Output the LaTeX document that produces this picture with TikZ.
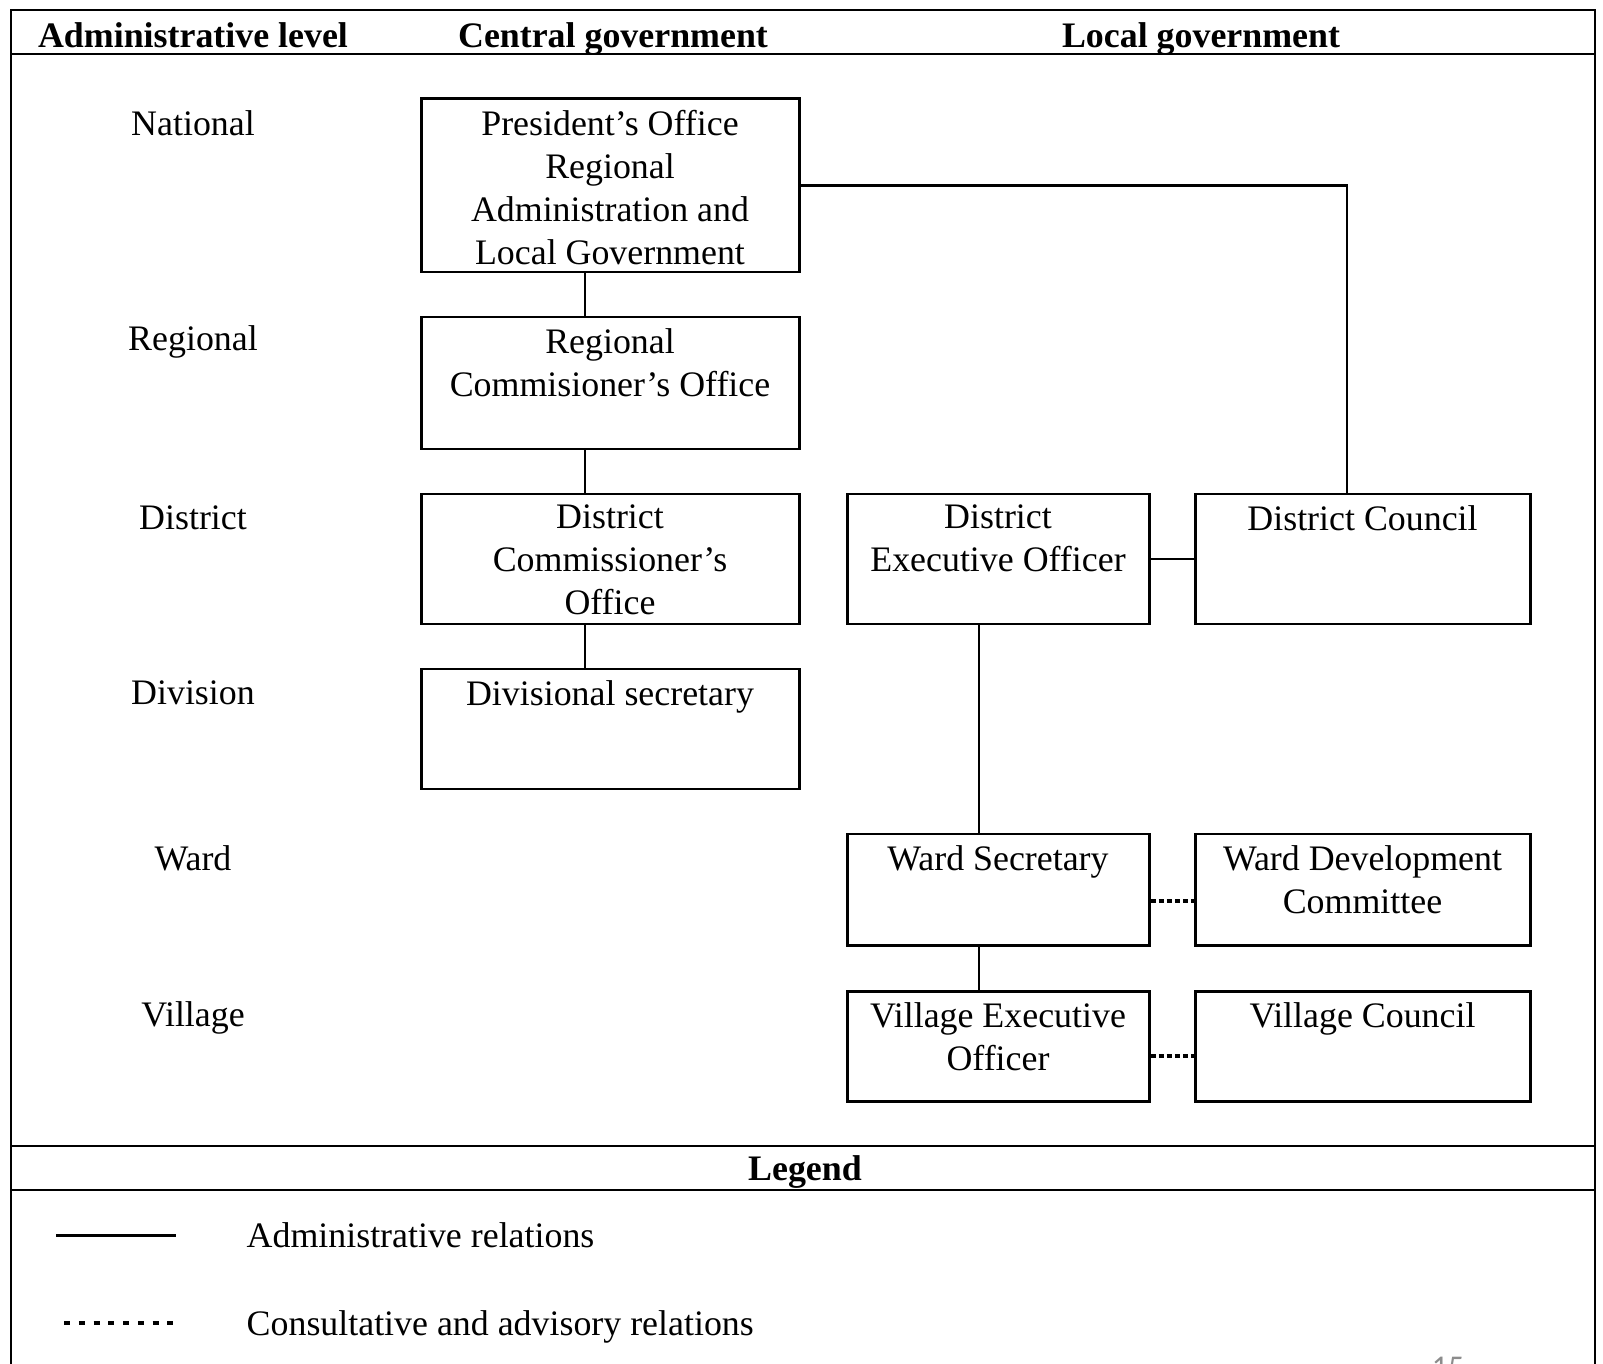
\documentclass[tikz,border=0pt]{standalone}
\usepackage{fontspec}
\setmainfont{Liberation Serif}
\newfontfamily\pagenumfont{Carlito}
\usepackage{tikz}
\usetikzlibrary{
  positioning,
  fit,
  calc
}
\definecolor{govInk}{HTML}{000000}
\definecolor{govMute}{HTML}{8C8C8C}
\tikzset{
  govbox/.style={draw=govInk, line width=0.85pt, inner sep=0pt},
  boxtext/.style={anchor=north, align=center, inner sep=0pt, yshift=-1.2mm},
  levellabel/.style={anchor=base, inner sep=0pt},
  headtext/.style={anchor=base, inner sep=0pt, font=\bfseries},
  legendtext/.style={anchor=base west, inner sep=0pt},
  frameline/.style={line width=0.6pt, govInk},
  headrule/.style={line width=0.8pt, govInk},
  adminrel/.style={line width=0.65pt, govInk},
  advrel/.style={line width=1pt, govInk, dash pattern=on 1.6pt off 0.7pt},
  legdots/.style={line width=1pt, govInk, dash pattern=on 1.7pt off 2.5pt}
}

\begin{document}
\fontsize{10.2}{12.2}\selectfont
\begin{tikzpicture}[x=0.01cm, y=-0.01cm]
  \useasboundingbox (0,0) rectangle (1603,1364);
  % frame
  \draw[frameline] (11,1370) -- (11,10) -- (1595,10) -- (1595,1370);
  \draw[headrule] (11,54) -- (1595,54);
  \draw[headrule] (11,1146) -- (1595,1146);
  \draw[headrule] (11,1190) -- (1595,1190);

  \node[headtext] (hlevel) at (193,48) {Administrative level};
  \node[headtext] (hcentral) at (613,48) {Central government};
  \node[headtext] (hlocal) at (1201,48) {Local government};

  \node[levellabel] (lnat) at (193,136) {National};
  \node[levellabel] (lreg) at (193,351) {Regional};
  \node[levellabel] (ldis) at (193,530) {District};
  \node[levellabel] (ldiv) at (193,704) {Division};
  \node[levellabel] (lward) at (193,870) {Ward};
  \node[levellabel] (lvil) at (193,1026) {Village};

  % central government
  \node[govbox, fit={(421,99) (799,272)}] (pres) {};
  \node[govbox, fit={(421,317) (799,449)}] (rco) {};
  \node[govbox, fit={(421,494) (799,624)}] (dco) {};
  \node[govbox, fit={(421,669) (799,789)}] (dsec) {};
  \node[boxtext] (pres-t) at (pres.north) {President’s Office\\Regional\\Administration and\\Local Government};
  \node[boxtext] (rco-t) at (rco.north) {Regional\\Commisioner’s Office};
  \node[boxtext] (dco-t) at (dco.north) {District\\Commissioner’s\\Office};
  \node[boxtext] (dsec-t) at (dsec.north) {Divisional secretary};

  % local government
  \node[govbox, fit={(847,494) (1149,624)}] (deo) {};
  \node[govbox, fit={(1195,494) (1530,624)}] (dcl) {};
  \node[govbox, fit={(847,834) (1149,945)}] (wsec) {};
  \node[govbox, fit={(1195,834) (1530,945)}] (wdc) {};
  \node[govbox, fit={(847,991) (1149,1101)}] (veo) {};
  \node[govbox, fit={(1195,991) (1530,1101)}] (vcl) {};
  \node[boxtext] (deo-t) at (deo.north) {District\\Executive Officer};
  \node[boxtext] (dcl-t) at (dcl.north) {District Council};
  \node[boxtext] (wsec-t) at (wsec.north) {Ward Secretary};
  \node[boxtext] (wdc-t) at (wdc.north) {Ward Development\\Committee};
  \node[boxtext] (veo-t) at (veo.north) {Village Executive\\Officer};
  \node[boxtext] (vcl-t) at (vcl.north) {Village Council};

  % relations
  \coordinate (cgx) at (585,0);
  \coordinate (dclx) at (1347,0);
  \coordinate (lgx) at (979,0);
  \coordinate (wdy) at (0,901);
  \coordinate (vdy) at (0,1056);
  \draw[adminrel] (pres.south -| cgx) -- (rco.north -| cgx);
  \draw[adminrel] (rco.south -| cgx) -- (dco.north -| cgx);
  \draw[adminrel] (dco.south -| cgx) -- (dsec.north -| cgx);
  \draw[adminrel] (pres.east) -| (dclx |- dcl.north);
  \draw[adminrel] (deo.east) -- (dcl.west);
  \draw[adminrel] (deo.south -| lgx) -- (wsec.north -| lgx);
  \draw[adminrel] (wsec.south -| lgx) -- (veo.north -| lgx);
  \draw[advrel] (wsec.east |- wdy) -- (wdc.west |- wdy);
  \draw[advrel] (veo.east |- vdy) -- (vcl.west |- vdy);

  % legend
  \node[headtext] (hlegend) at (805,1180) {Legend};
  \coordinate (legA1) at (56,1235);
  \coordinate (legA2) at (176,1235);
  \coordinate (legB1) at (64,1323);
  \coordinate (legB2) at (177,1323);
  \draw[adminrel, line width=0.85pt] (legA1) -- (legA2);
  \draw[legdots] (legB1) -- (legB2);
  \node[legendtext] (legA-t) at (246,1247) {Administrative relations};
  \node[legendtext] (legB-t) at (246,1335) {Consultative and advisory relations};

  \node[anchor=north, inner sep=0pt, text=govMute, font=\pagenumfont\fontsize{9}{11}\selectfont] (pgnum) at (1448,1356) {15};
\end{tikzpicture}
\end{document}
